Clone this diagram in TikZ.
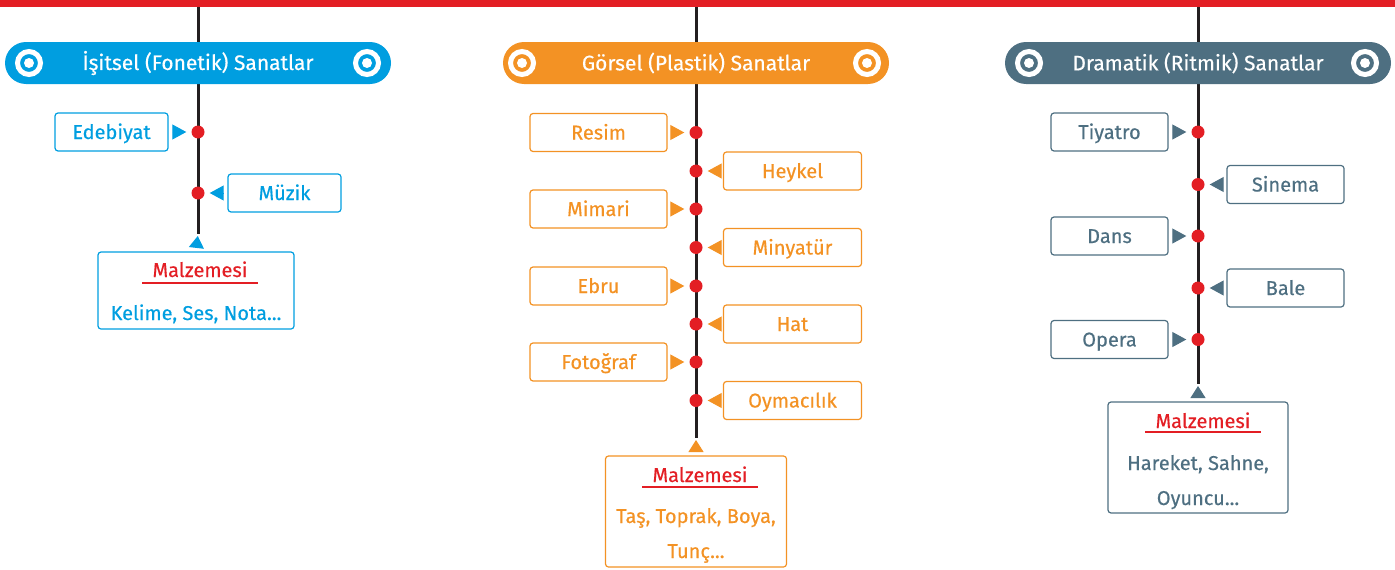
\documentclass[tikz,border=0pt]{standalone}
\usepackage{fontspec}
\setmainfont{Fira Sans}[FakeBold=0.4]
\usetikzlibrary{arrows.meta}
\definecolor{mavi}{RGB}{0,158,224}
\definecolor{turuncu}{RGB}{243,146,36}
\definecolor{gri}{RGB}{78,111,129}
\definecolor{kirmizi}{RGB}{227,30,36}
\definecolor{cizgi}{RGB}{35,31,32}

\begin{document}
\begin{tikzpicture}[x=1pt,y=-1pt]
\tikzset{
baslik/.style={rectangle,rounded corners=21pt,fill=#1,text=white,minimum width=386pt,minimum height=42pt,
font=\fontsize{21}{21}\selectfont},
halka/.style={circle,draw=white,line width=5pt,fill=#1,minimum size=23pt,inner sep=0pt},
ic/.style={circle,fill=white,minimum size=10pt,inner sep=0pt},
kutu/.style={rectangle,rounded corners=3pt,draw=#1,text=#1,line width=1.2pt,minimum height=38pt,
text height=15pt,text depth=1pt,font=\fontsize{20}{20}\selectfont},
malzeme/.style={rectangle,rounded corners=3pt,draw=#1,line width=1.2pt},
yazi/.style={text=#1,anchor=base,inner sep=0pt,font=\fontsize{20}{20}\selectfont},
baslikyazi/.style={text=kirmizi,anchor=base,inner xsep=10pt,inner ysep=0pt,font=\fontsize{20}{20}\selectfont},
altcizgi/.style={draw=kirmizi,line width=1.2pt},
nokta/.style={circle,fill=kirmizi,minimum size=13pt,inner sep=0pt},
hat/.style={draw=cizgi,line width=3pt},
ok/.style={-{Triangle[length=14pt,width=15pt]},draw=#1,line width=1pt,shorten <=4pt,shorten >=5pt},
yukari/.style={-{Triangle[length=12pt,width=15pt]},draw=#1,line width=1pt,shorten <=4pt,shorten >=2pt},
}

\fill[kirmizi] (0,0) rectangle (1395,7);
\useasboundingbox (0,0) rectangle (1395,570);

\coordinate (ust1) at (198,7);
\coordinate (son1) at (198,234);
\coordinate (ust2) at (696,7);
\coordinate (son2) at (696,438);
\coordinate (ust3) at (1198,7);
\coordinate (son3) at (1198,384);
\draw[hat] (ust1) -- (son1);
\draw[hat] (ust2) -- (son2);
\draw[hat] (ust3) -- (son3);

\node[baslik=mavi] (isitsel) at (198,63) {İşitsel (Fonetik) Sanatlar};
\node[halka=mavi] (isitsel-sol) at (29,63) {};
\node[ic] (isitsel-sol-ic) at (isitsel-sol) {};
\node[halka=mavi] (isitsel-sag) at (367,63) {};
\node[ic] (isitsel-sag-ic) at (isitsel-sag) {};

\node[baslik=turuncu] (gorsel) at (696,63) {Görsel (Plastik) Sanatlar};
\node[halka=turuncu] (gorsel-sol) at (522,63) {};
\node[ic] (gorsel-sol-ic) at (gorsel-sol) {};
\node[halka=turuncu] (gorsel-sag) at (867,63) {};
\node[ic] (gorsel-sag-ic) at (gorsel-sag) {};

\node[baslik=gri] (dramatik) at (1198,63) {Dramatik (Ritmik) Sanatlar};
\node[halka=gri] (dramatik-sol) at (1029,63) {};
\node[ic] (dramatik-sol-ic) at (dramatik-sol) {};
\node[halka=gri] (dramatik-sag) at (1365,63) {};
\node[ic] (dramatik-sag-ic) at (dramatik-sag) {};

\node[kutu=mavi,minimum width=113pt] (edebiyat) at (111.5,132) {Edebiyat};
\node[nokta] (n1) at (198,132) {};
\node[kutu=mavi,minimum width=113pt] (muzik) at (284.5,193) {Müzik};
\node[nokta] (n2) at (198,193) {};
\draw[ok=mavi] (edebiyat.east) -- (n1.west);
\draw[ok=mavi] (muzik.west) -- (n2.east);
\node[malzeme=mavi,minimum width=196pt,minimum height=77pt] (malz1) at (196,290.5) {};
\draw[yukari=mavi] (malz1.north) -- (son1);
\node[baslikyazi] (m1) at (200,277) {Malzemesi};
\draw[altcizgi] ([yshift=-6pt]m1.base west) -- ([yshift=-6pt]m1.base east);
\node[yazi=mavi] (m1a) at (196,320) {Kelime, Ses, Nota...};

\node[kutu=turuncu,minimum width=137pt] (resim) at (598.5,132.5) {Resim};
\node[nokta] (n3) at (696,132.5) {};
\node[kutu=turuncu,minimum width=138pt] (heykel) at (792.5,171) {Heykel};
\node[nokta] (n4) at (696,171) {};
\node[kutu=turuncu,minimum width=137pt] (mimari) at (598.5,209) {Mimari};
\node[nokta] (n5) at (696,209) {};
\node[kutu=turuncu,minimum width=138pt] (minyatur) at (792.5,247.5) {Minyatür};
\node[nokta] (n6) at (696,247.5) {};
\node[kutu=turuncu,minimum width=137pt] (ebru) at (598.5,286) {Ebru};
\node[nokta] (n7) at (696,286) {};
\node[kutu=turuncu,minimum width=138pt] (hat) at (792.5,324) {Hat};
\node[nokta] (n8) at (696,324) {};
\node[kutu=turuncu,minimum width=137pt] (fotograf) at (598.5,362) {Fotoğraf};
\node[nokta] (n9) at (696,362) {};
\node[kutu=turuncu,minimum width=138pt] (oymacilik) at (792.5,400.5) {Oymacılık};
\node[nokta] (n10) at (696,400.5) {};
\draw[ok=turuncu] (resim.east) -- (n3.west);
\draw[ok=turuncu] (heykel.west) -- (n4.east);
\draw[ok=turuncu] (mimari.east) -- (n5.west);
\draw[ok=turuncu] (minyatur.west) -- (n6.east);
\draw[ok=turuncu] (ebru.east) -- (n7.west);
\draw[ok=turuncu] (hat.west) -- (n8.east);
\draw[ok=turuncu] (fotograf.east) -- (n9.west);
\draw[ok=turuncu] (oymacilik.west) -- (n10.east);
\node[malzeme=turuncu,minimum width=181pt,minimum height=111pt] (malz2) at (696,511.5) {};
\draw[yukari=turuncu] (malz2.north) -- (son2);
\node[baslikyazi] (m2) at (700,482) {Malzemesi};
\draw[altcizgi] ([yshift=-5pt]m2.base west) -- ([yshift=-5pt]m2.base east);
\node[yazi=turuncu] (m2a) at (696,523) {Taş, Toprak, Boya,};
\node[yazi=turuncu] (m2b) at (696,558) {Tunç...};

\node[kutu=gri,minimum width=117pt] (tiyatro) at (1109.5,132) {Tiyatro};
\node[nokta] (n11) at (1198,132) {};
\node[kutu=gri,minimum width=117pt] (sinema) at (1285.5,184.5) {Sinema};
\node[nokta] (n12) at (1198,184.5) {};
\node[kutu=gri,minimum width=117pt] (dans) at (1109.5,236) {Dans};
\node[nokta] (n13) at (1198,236) {};
\node[kutu=gri,minimum width=117pt] (bale) at (1285.5,288) {Bale};
\node[nokta] (n14) at (1198,288) {};
\node[kutu=gri,minimum width=117pt] (opera) at (1109.5,339.5) {Opera};
\node[nokta] (n15) at (1198,339.5) {};
\draw[ok=gri] (tiyatro.east) -- (n11.west);
\draw[ok=gri] (sinema.west) -- (n12.east);
\draw[ok=gri] (dans.east) -- (n13.west);
\draw[ok=gri] (bale.west) -- (n14.east);
\draw[ok=gri] (opera.east) -- (n15.west);
\node[malzeme=gri,minimum width=180pt,minimum height=111pt] (malz3) at (1198,457.5) {};
\draw[yukari=gri] (malz3.north) -- (son3);
\node[baslikyazi] (m3) at (1203,428) {Malzemesi};
\draw[altcizgi] ([yshift=-4pt]m3.base west) -- ([yshift=-4pt]m3.base east);
\node[yazi=gri] (m3a) at (1198,470) {Hareket, Sahne,};
\node[yazi=gri] (m3b) at (1198,505) {Oyuncu...};
\end{tikzpicture}
\end{document}
